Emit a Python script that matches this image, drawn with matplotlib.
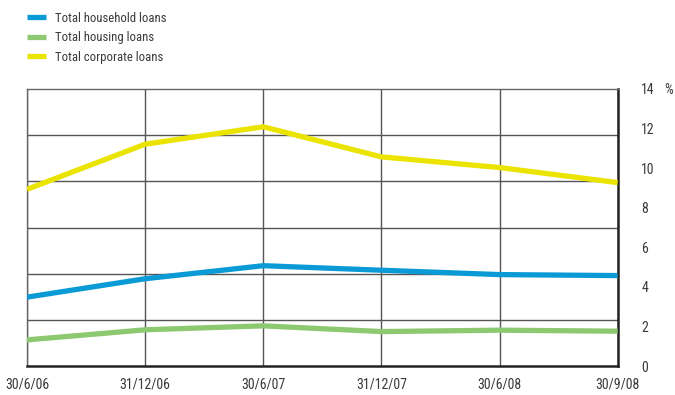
import matplotlib
matplotlib.use("Agg")
import matplotlib.pyplot as plt
import numpy as np

dates = ["30/6/06", "31/12/06", "30/6/07", "31/12/07", "30/6/08", "30/9/08"]
household = [3.48, 4.41, 5.07, 4.84, 4.62, 4.57]
housing = [1.32, 1.83, 2.03, 1.74, 1.81, 1.76]
corporate = [8.93, 11.21, 12.09, 10.57, 10.03, 9.27]
y_ticks = [0, 2, 4, 6, 8, 10, 12, 14]

series = [
    ("Total household loans", household, "#0a9bd6"),
    ("Total housing loans", housing, "#8dc971"),
    ("Total corporate loans", corporate, "#ebe400"),
]

plt.rcParams["font.family"] = ["Roboto Condensed", "DejaVu Sans"]
text_color = "#3a3a3a"
fs = 10

fig = plt.figure(figsize=(6.75, 3.95), dpi=100)
ax = fig.add_axes([0.040, 0.0734, 0.875, 0.7013])

x = np.arange(len(dates))
handles = []
for label, vals, color in series:
    h, = ax.plot(x, vals, color=color, lw=3.8, solid_capstyle="butt",
                 solid_joinstyle="miter", label=label, zorder=3)
    handles.append(h)

ax.set_xlim(0, len(dates) - 1)
ax.set_ylim(0, 14)

# gridlines: six equal bands, independent of the labelled ticks
ax.set_yticks(np.linspace(0, 14, 7), minor=True)
ax.set_xticks(x)
ax.set_xticklabels(dates, fontsize=fs, color=text_color)
ax.set_yticks(y_ticks)
ax.set_yticklabels([str(v) for v in y_ticks], fontsize=fs, color=text_color)
ax.yaxis.tick_right()
ax.tick_params(axis="both", which="both", length=0)
ax.tick_params(axis="y", pad=17)
ax.tick_params(axis="x", pad=8)

ax.grid(False, which="major", axis="y")
ax.grid(True, which="minor", axis="y", color="#555555", lw=1.0)
ax.grid(True, which="major", axis="x", color="#555555", lw=1.0)
ax.set_axisbelow(True)

for side in ("left", "top"):
    ax.spines[side].set_color("#666666")
    ax.spines[side].set_linewidth(1.0)
for side in ("bottom", "right"):
    ax.spines[side].set_color("#222222")
    ax.spines[side].set_linewidth(1.8)

fig.text(0.990, 0.772, "%", fontsize=fs, color=text_color, ha="center", va="center")

fig.legend(handles=handles, loc="upper left", bbox_to_anchor=(0.040, 0.97),
           frameon=False, fontsize=9.2, handlelength=1.5, handletextpad=0.7,
           labelspacing=0.5, borderaxespad=0, borderpad=0, labelcolor=text_color)

fig.savefig("out.png", dpi=100)
